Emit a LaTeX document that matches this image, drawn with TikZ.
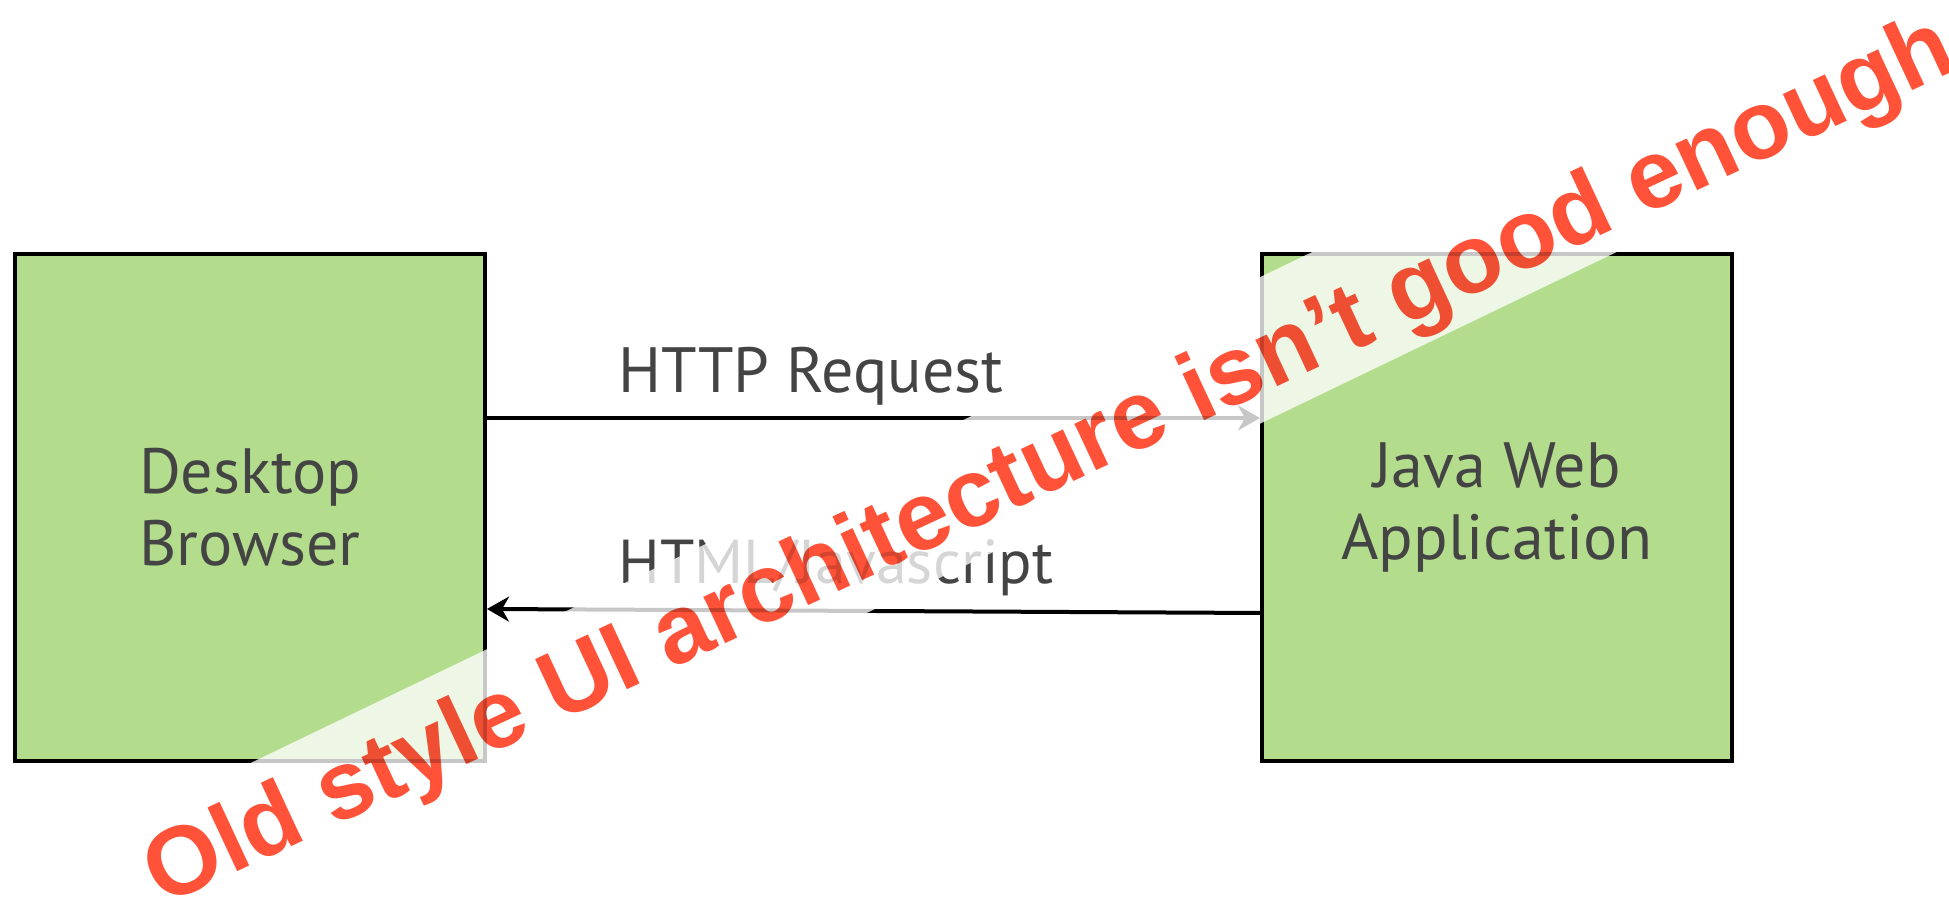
\documentclass[tikz,border=0pt]{standalone}
\usepackage{fontspec}
\usepackage{graphicx}
\setmainfont{PT Sans}
\newfontfamily\bannerfont{Liberation Sans}
\usetikzlibrary{arrows.meta,calc}
\definecolor{boxgreen}{RGB}{179,221,141}
\definecolor{labelgray}{RGB}{68,68,68}
\definecolor{warnred}{RGB}{255,82,56}
\begin{document}
\begin{tikzpicture}[x=0.5pt,y=0.5pt,
  tier/.style={draw=black, line width=2pt, fill=boxgreen,
    minimum width=235pt, minimum height=253.5pt, inner sep=0pt,
    text=labelgray, align=center, font=\fontsize{32}{36}\selectfont},
  msg/.style={text=labelgray, font=\fontsize{32}{38}\selectfont,
    inner sep=0pt, anchor=base west},
  flow/.style={draw=black, line width=2pt,
    -{Stealth[length=11pt, width=12.5pt, inset=3.5pt]}},
  banner/.style={text=warnred, inner sep=0pt,
    font=\bannerfont\bfseries\fontsize{48.5}{48.5}\selectfont}]
\useasboundingbox (0,0) rectangle (1949,897);

% the two tiers
\node[tier] (browser) at (250,389.5) {Desktop\\Browser};
\node[tier] (app) at (1497,389.5) {Java Web\\Application};

% messages between them
\node[msg] (req) at (618,504) {HTTP Request};
\node[msg, font=\fontsize{31}{38}\selectfont] (resp) at (618,313) {HTML/Javascript};
\draw[flow] ($(browser.east)+(0,89.5)$) -- ($(app.west)+(0,89.5)$);
\draw[flow] ($(app.west)+(0,-105.5)$) -- ($(browser.east)+(0,-101.5)$);

% translucent diagonal strip
\begin{scope}
  \clip (0,0) rectangle (1949,897);
  \fill[white, opacity=0.78, rotate around={25.7:(1262,547.5)}]
    (-600,481.5) rectangle (3100,613.5);
\end{scope}

% warning caption across the strip
\begin{scope}[blend mode=multiply]
  \node[banner] (warn) at (1051,432)
    {\rotatebox{25}{Old style UI architecture isn’t good enough}};
\end{scope}
\end{tikzpicture}
\end{document}
